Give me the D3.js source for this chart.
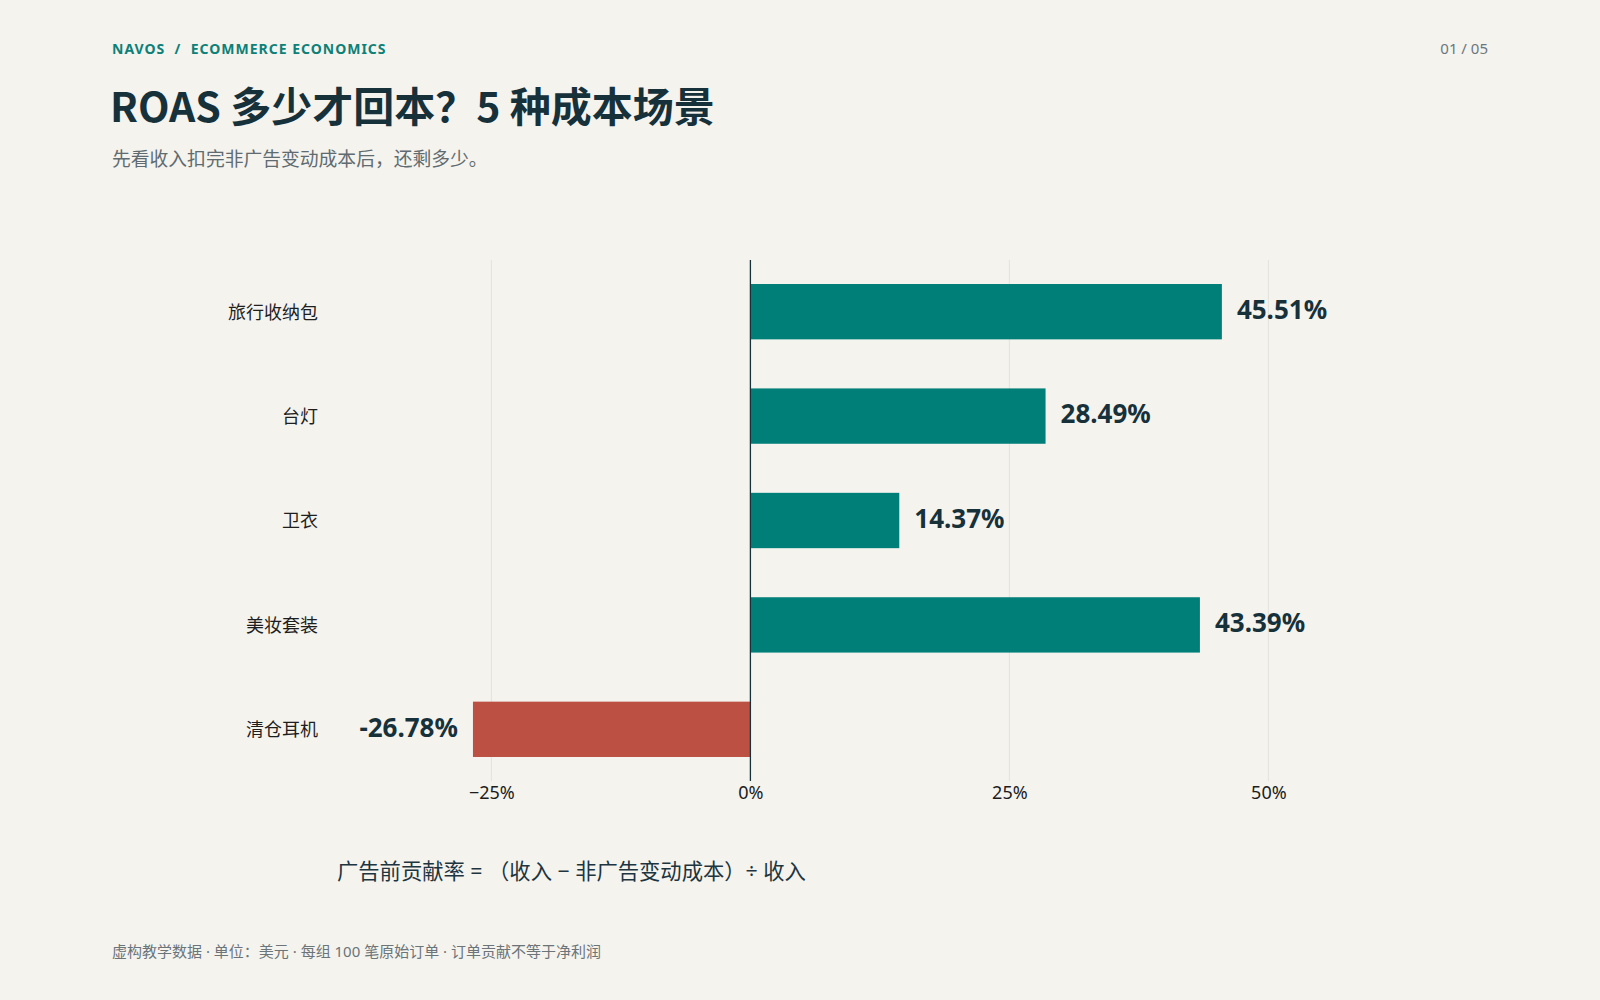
<!DOCTYPE html>
<html>
<head>
<meta charset="utf-8">
<script src="https://cdn.jsdelivr.net/npm/d3@7"></script>
<style>
  html, body { margin: 0; padding: 0; background: #f4f3ee; }
  svg { display: block; font-family: "Noto Sans", "Noto Sans CJK SC", sans-serif; }
  text { white-space: pre; }
  .grid line { stroke: #e4e2dc; stroke-width: 1; }
  .tick-label { font-size: 18px; fill: #1c1c1c; }
  .cat-label { font-size: 18px; fill: #1e1e1e; }
  .val-label { font-size: 26px; font-weight: 700; fill: #17313b; }
</style>
</head>
<body>
<div id="chart"></div>
<script>
  // data
  var categories = ['旅行收纳包', '台灯', '卫衣', '美妆套装', '清仓耳机'];
  var contribution = [45.51, 28.49, 14.37, 43.39, -26.78];
  var tickValues = [-25, 0, 25, 50];

  var settings = {
    width: 1600,
    height: 1000,
    left: 336,
    right: 1372,
    top: 260,
    bottom: 781,
    pos: '#007f78',
    neg: '#bb5043'
  };

  var svg = d3.select('#chart')
    .append('svg')
    .attr('width', settings.width)
    .attr('height', settings.height);

  svg.append('rect')
    .attr('width', settings.width)
    .attr('height', settings.height)
    .attr('fill', '#f4f3ee');

  // header
  svg.append('text')
    .attr('x', 112).attr('y', 54)
    .style('font-size', '14px').style('font-weight', 700)
    .style('letter-spacing', '1px')
    .attr('fill', '#0d8077')
    .text('NAVOS  /  ECOMMERCE ECONOMICS');

  svg.append('text')
    .attr('x', 1488).attr('y', 54)
    .attr('text-anchor', 'end')
    .style('font-size', '15px')
    .attr('fill', '#6b7780')
    .text('01 / 05');

  svg.append('text')
    .attr('x', 110).attr('y', 122)
    .style('font-size', '41px').style('font-weight', 700)
    .style('font-family', '"Noto Sans CJK SC", "Noto Sans", sans-serif')
    .attr('fill', '#17313b')
    .text('ROAS 多少才回本？5 种成本场景');

  svg.append('text')
    .attr('x', 112).attr('y', 166)
    .style('font-size', '18.8px')
    .style('font-family', '"Noto Sans CJK SC", sans-serif')
    .attr('fill', '#5f6b70')
    .text('先看收入扣完非广告变动成本后，还剩多少。');

  // scales
  var x = d3.scaleLinear()
    .domain([-40, 60])
    .range([settings.left, settings.right]);

  var y = d3.scaleBand()
    .domain(categories)
    .range([settings.top, settings.bottom])
    .paddingInner(0.47)
    .paddingOuter(0.23);

  // grid
  svg.append('g')
    .classed('grid', true)
    .selectAll('line')
    .data(tickValues.filter(function (d) { return d !== 0; }))
    .enter()
    .append('line')
    .attr('x1', function (d) { return x(d); })
    .attr('x2', function (d) { return x(d); })
    .attr('y1', settings.top)
    .attr('y2', settings.bottom);

  // bars
  svg.append('g')
    .selectAll('rect')
    .data(contribution)
    .enter()
    .append('rect')
    .attr('x', function (d) { return x(Math.min(0, d)); })
    .attr('y', function (d, i) { return y(categories[i]); })
    .attr('width', function (d) { return Math.abs(x(d) - x(0)); })
    .attr('height', y.bandwidth())
    .attr('fill', function (d) { return d < 0 ? settings.neg : settings.pos; });

  // zero line
  svg.append('line')
    .attr('x1', x(0)).attr('x2', x(0))
    .attr('y1', settings.top).attr('y2', settings.bottom)
    .attr('stroke', '#17313b')
    .attr('stroke-width', 1.3);

  // value labels
  svg.append('g')
    .selectAll('text')
    .data(contribution)
    .enter()
    .append('text')
    .classed('val-label', true)
    .attr('x', function (d) { return d < 0 ? x(d) - 15 : x(d) + 15; })
    .attr('y', function (d, i) { return y(categories[i]) + y.bandwidth() / 2; })
    .attr('dy', '0.28em')
    .attr('text-anchor', function (d) { return d < 0 ? 'end' : 'start'; })
    .text(function (d) { return d.toFixed(2) + '%'; });

  // category labels
  svg.append('g')
    .selectAll('text')
    .data(categories)
    .enter()
    .append('text')
    .classed('cat-label', true)
    .attr('x', 318)
    .attr('y', function (d) { return y(d) + y.bandwidth() / 2; })
    .attr('dy', '0.38em')
    .attr('text-anchor', 'end')
    .style('font-family', '"Noto Sans CJK SC", sans-serif')
    .text(function (d) { return d; });

  // x axis
  var axis = d3.axisBottom(x)
    .tickValues(tickValues)
    .tickSize(0)
    .tickPadding(0)
    .tickFormat(function (d) { return d3.format('')(d) + '%'; });

  var axisG = svg.append('g')
    .attr('transform', 'translate(0,' + 799 + ')')
    .call(axis);
  axisG.select('.domain').remove();
  axisG.selectAll('text')
    .attr('class', 'tick-label')
    .attr('dy', 0)
    .attr('y', 0)
    .style('font-family', '"Noto Sans", sans-serif');

  // formula note
  svg.append('text')
    .attr('x', 337).attr('y', 879)
    .style('font-size', '21.3px')
    .style('font-family', '"Noto Sans", "Noto Sans CJK SC", sans-serif')
    .attr('fill', '#1c3540')
    .text('广告前贡献率 = （收入 − 非广告变动成本）÷ 收入');

  // footer
  svg.append('text')
    .attr('x', 112).attr('y', 957)
    .style('font-size', '15px')
    .style('font-family', '"Noto Sans", "Noto Sans CJK SC", sans-serif')
    .attr('fill', '#6b7479')
    .text('虚构教学数据 · 单位：美元 · 每组 100 笔原始订单 · 订单贡献不等于净利润');
</script>
</body>
</html>
